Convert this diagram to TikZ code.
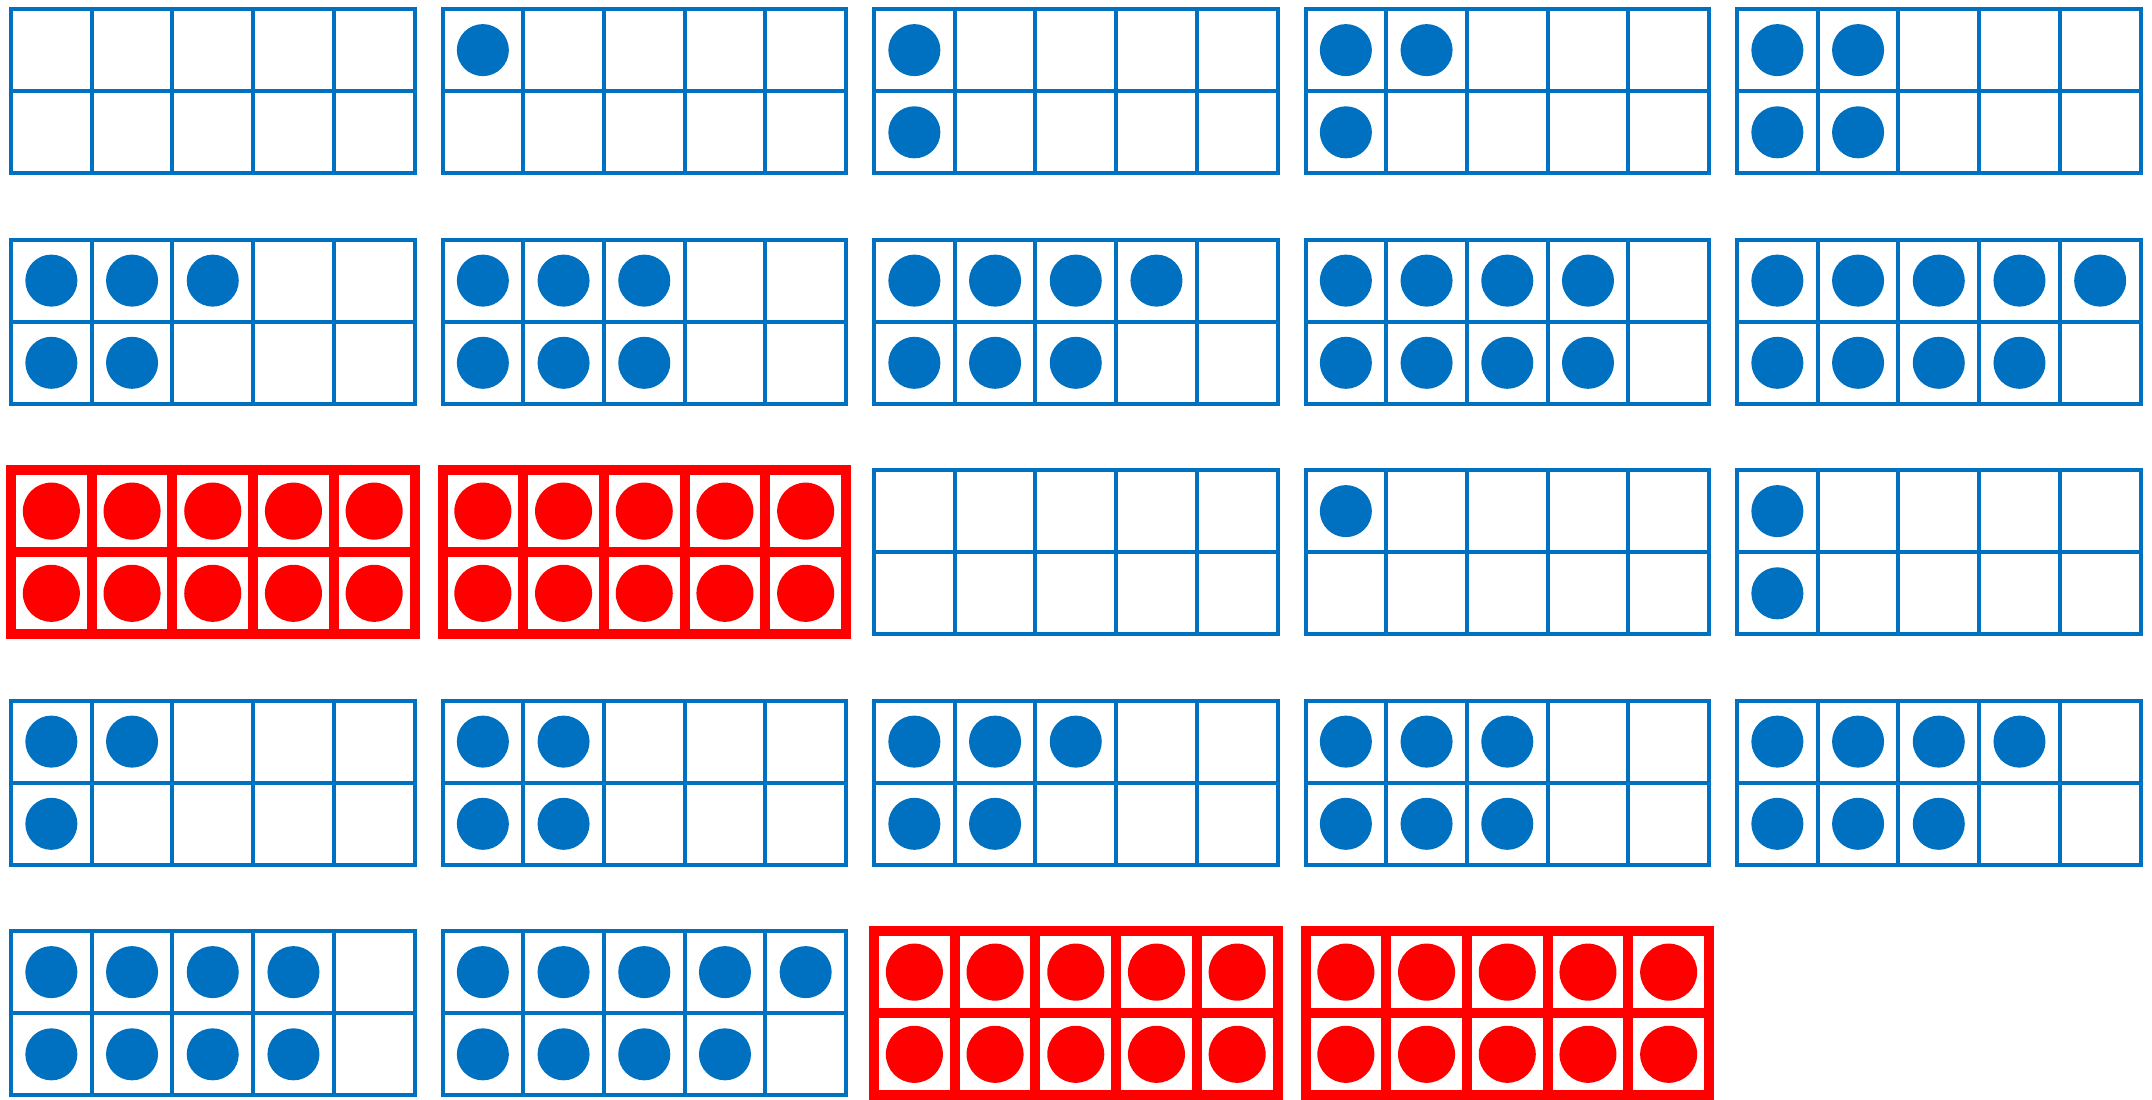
\documentclass[tikz,border=0pt]{standalone}
\usepackage{xcolor}
\definecolor{frameblue}{RGB}{0,112,192}
\definecolor{framered}{RGB}{255,0,0}

\begin{document}
\begin{tikzpicture}[
    x=0.01cm, y=-0.01cm,
    bluegrid/.style={draw=frameblue,line width=0.04cm},
    redgrid/.style={draw=framered,line width=0.1cm},
    bluedot/.style={fill=frameblue},
    reddot/.style={fill=framered}
]

\useasboundingbox (0,0) rectangle (2152,1099);

% ten frames, left to right and top to bottom; 10 = full red frame
\foreach \n [count=\i from 0] in
    {0,1,2,3,4,5,6,7,8,9,10,10,0,1,2,3,4,5,6,7,8,9,10,10}
{
    \pgfmathsetmacro\xo{11+431.5*mod(\i,5)}
    \pgfmathsetmacro\yo{9+230.5*div(\i,5)}
    \ifnum\n=10
        \tikzset{gridstyle/.style=redgrid,dotstyle/.style=reddot}
        \def\rad{0.285cm}
    \else
        \tikzset{gridstyle/.style=bluegrid,dotstyle/.style=bluedot}
        \def\rad{0.26cm}
    \fi

    % grid
    \draw[gridstyle] (\xo,\yo) rectangle ++(403.5,164.4);
    \draw[gridstyle] (\xo,\yo+82.2) -- ++(403.5,0);
    \foreach \c in {1,2,3,4}
        \draw[gridstyle] (\xo+80.7*\c,\yo) -- ++(0,164.4);

    % dots, column by column
    \ifnum\n>0
        \foreach \k in {1,...,\n} {
            \pgfmathsetmacro\cx{\xo+80.7*(div(\k-1,2)+0.5)}
            \pgfmathsetmacro\cy{\yo+82.2*(mod(\k-1,2)+0.5)}
            \fill[dotstyle] (\cx,\cy) circle[radius=\rad];
        }
    \fi
}

\end{tikzpicture}
\end{document}
